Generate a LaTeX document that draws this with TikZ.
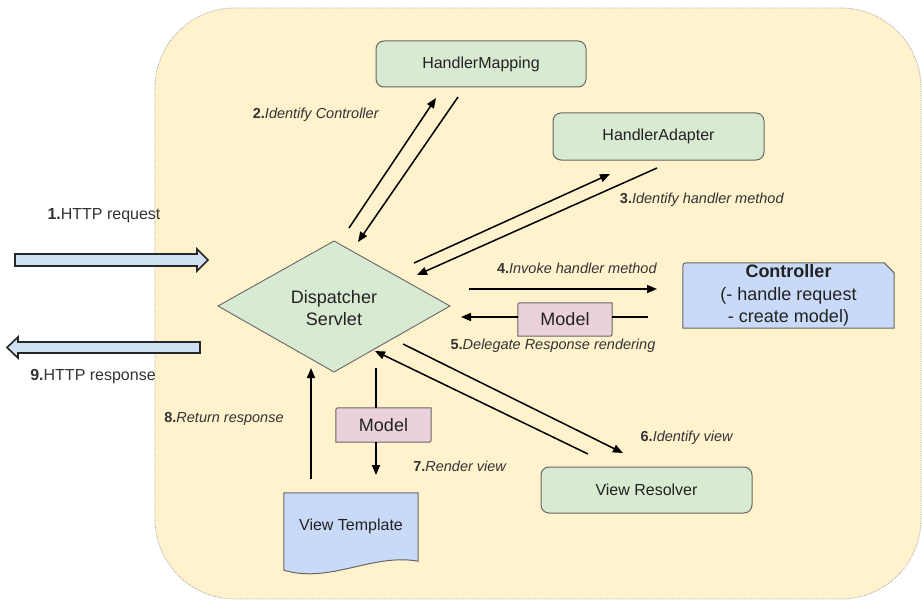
\documentclass[tikz,border=0pt]{standalone}
\usepackage{fontspec}
\setmainfont{Liberation Sans}
\usetikzlibrary{arrows.meta}
\definecolor{bgyellow}{HTML}{FFF2CC}
\definecolor{lgreen}{HTML}{D9EAD3}
\definecolor{lblue}{HTML}{C9DAF8}
\definecolor{lpink}{HTML}{EAD1DC}
\definecolor{arrblue}{HTML}{CFE2F3}
\definecolor{edgegray}{HTML}{666666}
\definecolor{txt}{HTML}{222222}
\definecolor{lbl}{HTML}{333333}
\pgfdeclarelayer{bglayer}
\pgfdeclarelayer{shapelayer}
\pgfsetlayers{bglayer,shapelayer,main}
\begin{document}
\begin{tikzpicture}[x=1pt,y=-1pt,
  boxtext/.style={inner sep=0pt, text=txt, align=center, font=\fontsize{16}{19}\selectfont},
  bigtext/.style={inner sep=0pt, text=txt, align=center, font=\fontsize{18}{22.5}\selectfont},
  greenbox/.style={boxtext, draw=edgegray, fill=lgreen, line width=1pt, rounded corners=8pt},
  lab/.style={text=lbl, font=\fontsize{14.5}{17}\selectfont, inner sep=0pt},
  httplab/.style={text=lbl, font=\fontsize{16}{19}\selectfont, inner sep=0pt},
  conn/.style={line width=1.5pt, draw=black, -{Triangle[length=10pt,width=8pt]}},
  plainline/.style={line width=1.5pt, draw=black},
  shapeline/.style={draw=edgegray, line width=1pt},
  blockarrow/.style={draw=black!85, line width=1.6pt, fill=arrblue, line join=miter}
]
\useasboundingbox (0,0) rectangle (922,602);

% background panel
\begin{pgfonlayer}{bglayer}
\draw[fill=bgyellow, draw=gray!70, densely dotted, line width=0.8pt, rounded corners=80pt]
  (155,8) rectangle (921,599);
\end{pgfonlayer}

% green boxes
\node[greenbox, minimum width=210pt, minimum height=46pt] (hm) at (481,64) {HandlerMapping};
\node[greenbox, minimum width=211pt, minimum height=47pt] (ha) at (658.5,136.5) {HandlerAdapter};
\node[greenbox, minimum width=211pt, minimum height=46pt] (vr) at (646.5,490) {View Resolver};

% dispatcher servlet diamond
\node[bigtext] (ds) at (334,308) {Dispatcher\\Servlet};
\begin{pgfonlayer}{shapelayer}
\draw[draw=gray!80!black, fill=lgreen, line width=0.9pt]
  (218,306) -- (334,241) -- (450,306) -- (334,372) -- cycle;
\end{pgfonlayer}

% controller
\node[bigtext, minimum width=211pt, minimum height=65pt] (ctrl) at (788.5,295.5)
  {\textbf{Controller}\\(- handle request\\- create model)};
\begin{pgfonlayer}{shapelayer}
\draw[shapeline, fill=lblue]
  (ctrl.south west) -- ([yshift=-7pt]ctrl.north west) .. controls (ctrl.north west) .. ([xshift=7pt]ctrl.north west)
  -- ([xshift=-10pt]ctrl.north east) -- ([yshift=-10pt]ctrl.north east) -- (ctrl.south east) -- cycle;
\end{pgfonlayer}

% model boxes
\node[bigtext, minimum width=94pt, minimum height=33pt] (m1) at (565,319.5) {Model};
\node[bigtext, minimum width=95pt, minimum height=34pt] (m2) at (383.5,425) {Model};
\begin{pgfonlayer}{shapelayer}
\foreach \m in {m1,m2}{
\draw[shapeline, fill=lpink]
  (\m.south west) -- ([yshift=-5pt]\m.north west) .. controls (\m.north west) .. ([xshift=5pt]\m.north west)
  -- (\m.north east) -- ([yshift=5pt]\m.south east) .. controls (\m.south east) .. ([xshift=-5pt]\m.south east)
  -- cycle;
}
\end{pgfonlayer}

% view template (document shape)
\node[boxtext, minimum width=134pt, minimum height=66pt] (vt) at (351,526) {View Template};
\begin{pgfonlayer}{shapelayer}
\draw[shapeline, fill=lblue]
  (vt.north west) -- (vt.north east) -- ([yshift=-2pt]vt.south east)
  .. controls (372,553) and (330,584) .. ([yshift=-11pt]vt.south west)
  -- cycle;
\end{pgfonlayer}

% HTTP block arrows
\draw[blockarrow] (15,254) -- (197,254) -- (197,249) -- (208,260) -- (197,271) -- (197,266) -- (15,266) -- cycle;
\draw[blockarrow] (200,342) -- (18,342) -- (18,337) -- (7,347.5) -- (18,358) -- (18,353) -- (200,353) -- cycle;
\node[httplab] (l1) at (104,216) {\textbf{1.}HTTP request};
\node[httplab] (l9) at (93,377) {\textbf{9.}HTTP response};

% connector endpoints
\coordinate (a2s) at (349,228);  \coordinate (a2e) at (436,98);
\coordinate (b2s) at (458,97);   \coordinate (b2e) at (358,242);
\coordinate (a3s) at (414,263);  \coordinate (a3e) at (610,174);
\coordinate (b3s) at (657,168);  \coordinate (b3e) at (417,275);
\coordinate (a4s) at (469,289);  \coordinate (a4e) at (657,289);
\coordinate (a5s) at (648,317);  \coordinate (a5e) at (461,317);
\coordinate (a6s) at (403,344);  \coordinate (a6e) at (623,453);
\coordinate (b6s) at (588,454);  \coordinate (b6e) at (375,351);
\coordinate (a7s) at (376,368);  \coordinate (a7e) at (376,475);
\coordinate (a8s) at (311,479);  \coordinate (a8e) at (311,368);

\draw[conn] (a2s) -- (a2e);
\draw[conn] (b2s) -- (b2e);
\draw[conn] (a3s) -- (a3e);
\draw[conn] (b3s) -- (b3e);
\draw[conn] (a4s) -- (a4e);
\draw[plainline] (a5s) -- (a5s -| m1.east);
\draw[conn] (a5s -| m1.west) -- (a5e);
\draw[conn] (a6s) -- (a6e);
\draw[conn] (b6s) -- (b6e);
\draw[plainline] (a7s) -- (a7s |- m2.north);
\draw[conn] (a7s |- m2.south) -- (a7e);
\draw[conn] (a8s) -- (a8e);

% labels
\node[lab] (l2) at (316,115) {\textbf{2.}\textit{Identify Controller}};
\node[lab] (l3) at (702,200) {\textbf{3.}\textit{Identify handler method}};
\node[lab] (l4) at (577,268) {\textbf{4.}\textit{Invoke handler method}};
\node[lab] (l5) at (553,346) {\textbf{5.}\textit{Delegate Response rendering}};
\node[lab] (l6) at (687,438) {\textbf{6.}\textit{Identify view}};
\node[lab] (l7) at (460,466) {\textbf{7.}\textit{Render view}};
\node[lab] (l8) at (224,419) {\textbf{8.}\textit{Return response}};
\end{tikzpicture}
\end{document}
